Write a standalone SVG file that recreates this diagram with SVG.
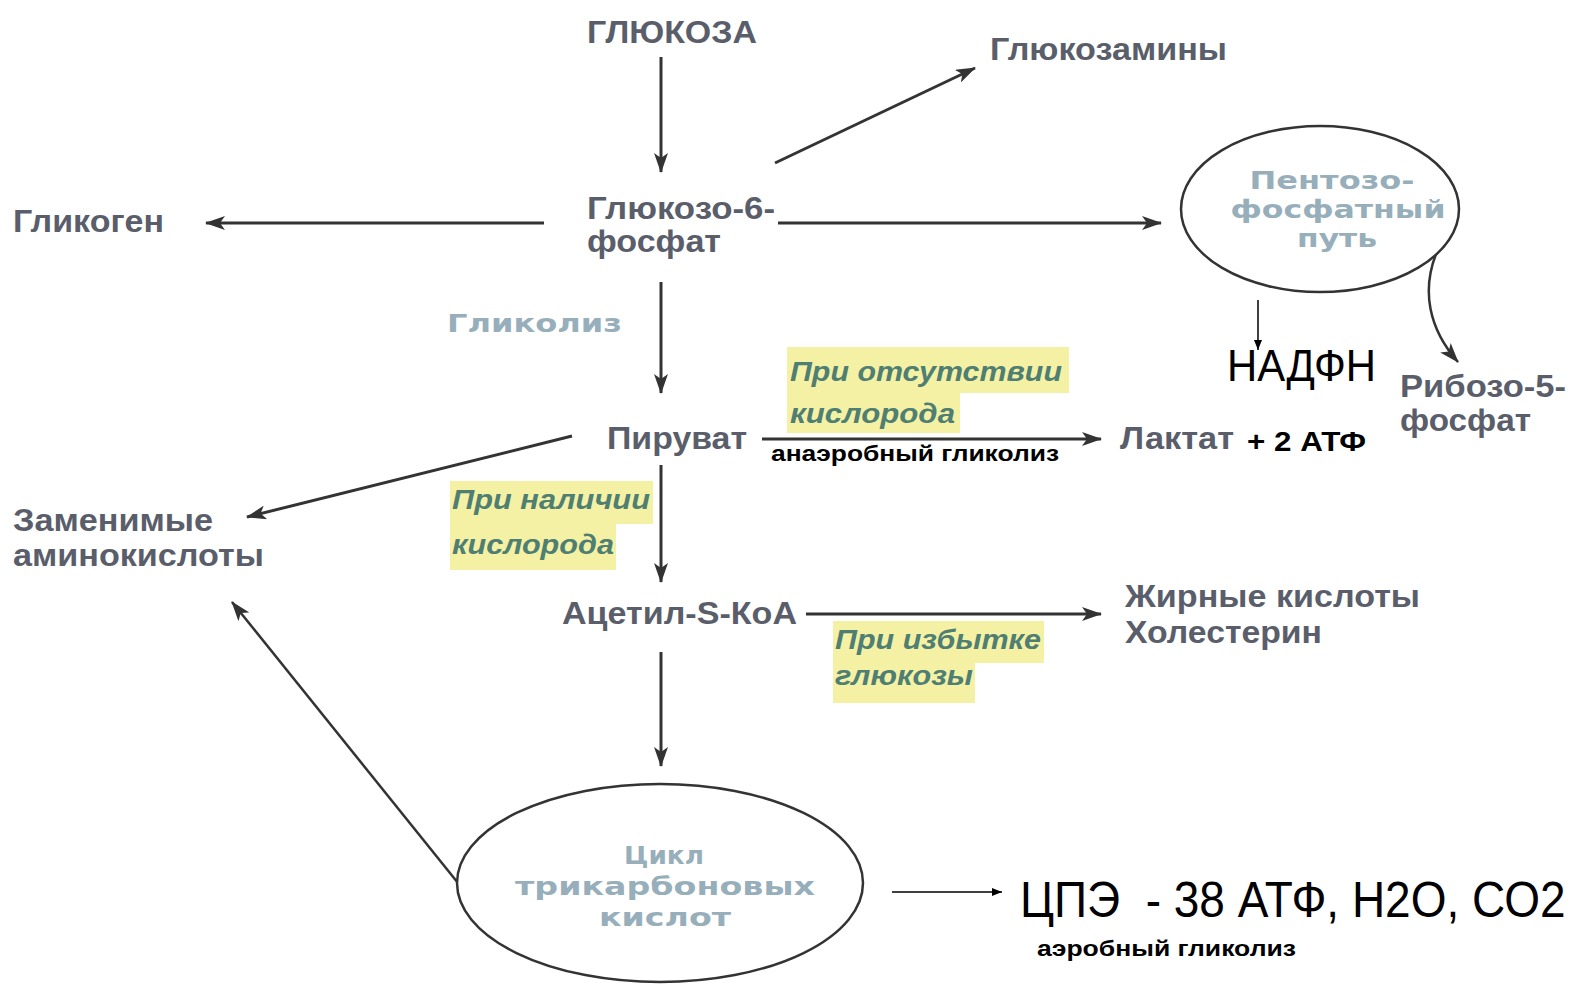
<svg xmlns="http://www.w3.org/2000/svg" width="1579" height="988" viewBox="0 0 1579 988">
<style>
.n{font-family:"Liberation Sans",Arial,sans-serif;font-weight:bold;font-size:32px;fill:#5a5e6a}
.l{font-family:"DejaVu Sans","Open Sans",sans-serif;font-weight:bold;font-size:24px;fill:#97aebb}
.c{font-family:"Liberation Sans",Arial,sans-serif;font-weight:bold;font-style:italic;font-size:28px;fill:#4f7e72}
.b{font-family:"Liberation Sans",Arial,sans-serif;fill:#000}
.hl{fill:#f5f1a4}
.a{stroke:#333;stroke-width:3;fill:none;marker-end:url(#ah)}
.t{stroke:#000;stroke-width:1.5;fill:none;marker-end:url(#as)}
.e{fill:#fff;stroke:#333;stroke-width:2.5}
</style>
<defs>
<marker id="ah" viewBox="0 0 20 14" markerWidth="20" markerHeight="14" refX="19" refY="7" orient="auto" markerUnits="userSpaceOnUse"><path d="M0,0 L20,7 L0,14 L5,7 z" fill="#333"/></marker>
<marker id="as" viewBox="0 0 10 8" markerWidth="10" markerHeight="8" refX="10" refY="4" orient="auto" markerUnits="userSpaceOnUse"><path d="M0,0 L10,4 L0,8 z" fill="#000"/></marker>
</defs>
<rect width="1579" height="988" fill="#fff"/>
<g id="connectors">
<path class="a" d="M661,57 L661,172"/>
<path class="a" d="M544,223 L206,223"/>
<path class="a" d="M775,163 L975,68"/>
<path class="a" d="M778,223 L1161,223"/>
<path class="a" d="M661,282 L661,393"/>
<path class="a" d="M762,439 L1101,439"/>
<path class="a" d="M572,436 L247,517"/>
<path class="a" d="M661,465 L661,582"/>
<path class="a" d="M806,614 L1101,614"/>
<path class="a" d="M661,652 L661,766"/>
<path class="a" style="stroke-width:2.5" d="M458,883 L232,602"/>
<path class="a" style="stroke-width:2.5" d="M1436,254 C1422,290 1428,328 1458,362"/>
<path class="t" d="M1258,300 L1258,350"/>
<path class="t" d="M892,892 L1002,892"/>
</g>
<g id="glucose"><text class="n" x="587" y="43" textLength="170" lengthAdjust="spacingAndGlyphs">ГЛЮКОЗА</text></g>
<g id="g6p"><text class="n" x="587" y="219" textLength="188" lengthAdjust="spacingAndGlyphs">Глюкозо-6-</text><text class="n" x="587" y="252" textLength="134" lengthAdjust="spacingAndGlyphs">фосфат</text></g>
<g id="glycogen"><text class="n" x="13" y="232" textLength="151" lengthAdjust="spacingAndGlyphs">Гликоген</text></g>
<g id="glucosamines"><text class="n" x="990" y="60" textLength="237" lengthAdjust="spacingAndGlyphs">Глюкозамины</text></g>
<g id="ppp"><ellipse class="e" cx="1320" cy="209" rx="139" ry="83"/>
<text class="l" x="1332" y="189" text-anchor="middle" textLength="165" lengthAdjust="spacingAndGlyphs">Пентозо-</text>
<text class="l" x="1338" y="218" text-anchor="middle" textLength="215" lengthAdjust="spacingAndGlyphs">фосфатный</text>
<text class="l" x="1337" y="247" text-anchor="middle" textLength="80" lengthAdjust="spacingAndGlyphs">путь</text></g>
<g id="nadph"><text class="b" x="1227" y="381" font-size="44" textLength="149" lengthAdjust="spacingAndGlyphs">НАДФН</text></g>
<g id="ribose"><text class="n" x="1400" y="397" textLength="166" lengthAdjust="spacingAndGlyphs">Рибозо-5-</text><text class="n" x="1400" y="431" textLength="131" lengthAdjust="spacingAndGlyphs">фосфат</text></g>
<g id="glycolysis"><text class="l" x="447" y="332" font-size="26" textLength="175" lengthAdjust="spacingAndGlyphs">Гликолиз</text></g>
<g id="cond-anaerobic">
<rect class="hl" x="787" y="347" width="282" height="46"/><rect class="hl" x="787" y="393" width="173" height="40"/>
<text class="c" x="790" y="381" textLength="272" lengthAdjust="spacingAndGlyphs">При отсутствии</text>
<text class="c" x="790" y="423" textLength="165" lengthAdjust="spacingAndGlyphs">кислорода</text></g>
<g id="pyruvate"><text class="n" x="607" y="449" textLength="140" lengthAdjust="spacingAndGlyphs">Пируват</text></g>
<g id="anaerobic"><text class="b" x="771" y="461" font-size="22" font-weight="bold" textLength="288" lengthAdjust="spacingAndGlyphs">анаэробный гликолиз</text></g>
<g id="lactate"><text class="n" x="1120" y="449" textLength="114" lengthAdjust="spacingAndGlyphs">Лактат</text><text class="b" x="1247" y="451" font-size="28" font-weight="bold" textLength="119" lengthAdjust="spacingAndGlyphs">+ 2 АТФ</text></g>
<g id="aminoacids"><text class="n" x="13" y="531" textLength="200" lengthAdjust="spacingAndGlyphs">Заменимые</text><text class="n" x="13" y="566" textLength="251" lengthAdjust="spacingAndGlyphs">аминокислоты</text></g>
<g id="cond-aerobic">
<rect class="hl" x="450" y="481" width="203" height="43"/><rect class="hl" x="450" y="524" width="166" height="46"/>
<text class="c" x="452" y="509" textLength="198" lengthAdjust="spacingAndGlyphs">При наличии</text>
<text class="c" x="452" y="554" textLength="162" lengthAdjust="spacingAndGlyphs">кислорода</text></g>
<g id="acetylcoa"><text class="n" x="562" y="624" textLength="235" lengthAdjust="spacingAndGlyphs">Ацетил-S-КоА</text></g>
<g id="fattyacids"><text class="n" x="1125" y="607" textLength="295" lengthAdjust="spacingAndGlyphs">Жирные кислоты</text><text class="n" x="1125" y="643" textLength="197" lengthAdjust="spacingAndGlyphs">Холестерин</text></g>
<g id="cond-excess">
<rect class="hl" x="833" y="621" width="211" height="42"/><rect class="hl" x="833" y="663" width="142" height="40"/>
<text class="c" x="835" y="649" textLength="206" lengthAdjust="spacingAndGlyphs">При избытке</text>
<text class="c" x="835" y="685" textLength="138" lengthAdjust="spacingAndGlyphs">глюкозы</text></g>
<g id="tca"><ellipse class="e" cx="660" cy="883" rx="203" ry="99"/>
<text class="l" x="664" y="864" font-size="26" text-anchor="middle" textLength="80" lengthAdjust="spacingAndGlyphs">Цикл</text>
<text class="l" x="665" y="895" font-size="26" text-anchor="middle" textLength="300" lengthAdjust="spacingAndGlyphs">трикарбоновых</text>
<text class="l" x="665" y="926" font-size="26" text-anchor="middle" textLength="132" lengthAdjust="spacingAndGlyphs">кислот</text></g>
<g id="etc" transform="translate(1020,917) scale(0.88,1)"><text class="b" x="0" y="0" font-size="50" textLength="620" lengthAdjust="spacingAndGlyphs" xml:space="preserve">ЦПЭ  - 38 АТФ, Н2О, СО2</text></g>
<g id="aerobic"><text class="b" x="1037" y="956" font-size="22" font-weight="bold" textLength="259" lengthAdjust="spacingAndGlyphs">аэробный гликолиз</text></g>
</svg>
